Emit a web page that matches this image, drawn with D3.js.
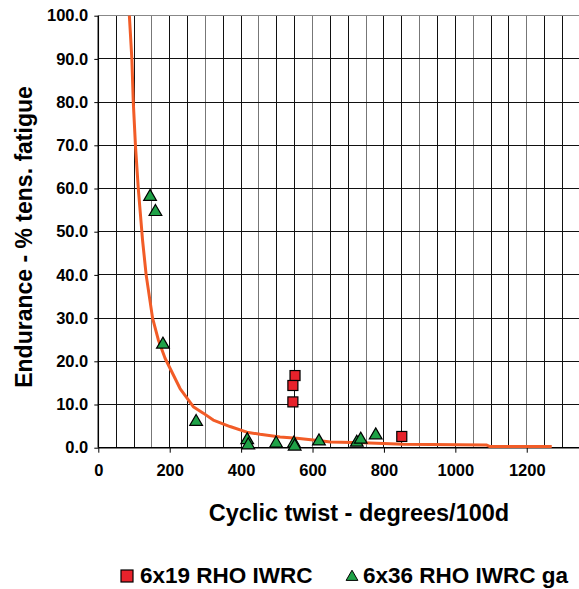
<!DOCTYPE html>
<html>
<head>
<meta charset="utf-8">
<script src="https://cdn.jsdelivr.net/npm/d3@7"></script>
<style>
  body { margin: 0; background: #fff; }
  svg { display: block; font-family: "Liberation Sans", Arial, sans-serif; font-weight: bold; }
</style>
</head>
<body>
<div id="chart"></div>
<script>
// data
var rho619 = [[551, 16.7], [545, 14.4], [545, 10.6], [850, 2.6]];
var rho636 = [[145, 58.1], [160, 54.6], [181, 23.9], [274, 6.0], [417, 1.8], [420, 0.6],
  [498, 1.0], [548, 1.0], [550, 0.3], [618, 1.5], [724, 1.2], [735, 1.9], [777, 2.9]];
var trend = [[87, 100], [94, 90], [98, 80], [104, 70], [112, 60], [124, 48], [134, 40],
  [152, 30], [168, 25], [187, 20.7], [229, 13.7], [266, 9.5], [294, 8], [322, 6.4],
  [369, 4.9], [416, 3.6], [453, 3.1], [509, 2.5], [556, 2.2], [602, 1.8], [621, 1.6],
  [650, 1.3], [742, 1.15], [854, 0.8], [1088, 0.6], [1097, 0.25], [1270, 0.25]];
var xTicks = [0, 200, 400, 600, 800, 1000, 1200];
var yTicks = [0, 10, 20, 30, 40, 50, 60, 70, 80, 90, 100];
var seriesNames = ["6x19 RHO IWRC", "6x36 RHO IWRC ga"];

var svgWidth = 579;
var svgHeight = 589;

var svg = d3.select("#chart")
  .append("svg")
  .attr("width", svgWidth)
  .attr("height", svgHeight);

var x = d3.scaleLinear().domain([0, 1350]).range([98.3, 580.3]);
var y = d3.scaleLinear().domain([0, 100]).range([447.7, 15.7]);

// grid
var grid = svg.append("g").attr("shape-rendering", "crispEdges");
grid.selectAll(".vg")
  .data(d3.range(50, 1351, 50))
  .enter()
  .append("line")
  .attr("x1", d => x(d)).attr("x2", d => x(d))
  .attr("y1", y(100)).attr("y2", y(0))
  .attr("stroke", (d, i) => i % 3 == 2 ? "#777" : "#111")
  .attr("stroke-width", 1);
grid.selectAll(".hg")
  .data(yTicks.slice(1))
  .enter()
  .append("line")
  .attr("x1", x(0)).attr("x2", x(1350))
  .attr("y1", d => y(d)).attr("y2", d => y(d))
  .attr("stroke", d => d == 100 ? "#888" : "#111")
  .attr("stroke-width", d => d == 100 ? 1.5 : 1);

// axes
var bottomAxis = d3.axisBottom(x).tickValues(xTicks).tickSize(5).tickPadding(12).tickFormat(d3.format("d"));
var leftAxis = d3.axisLeft(y).tickValues(yTicks).tickSize(4).tickPadding(6).tickFormat(d3.format(".1f"));

var xAxisG = svg.append("g")
  .attr("transform", `translate(0, ${y(0)})`)
  .call(bottomAxis);
var yAxisG = svg.append("g")
  .attr("transform", `translate(${x(0)}, 0)`)
  .call(leftAxis);

[xAxisG, yAxisG].forEach(function(g) {
  g.attr("font-size", 16.5).attr("font-family", "'Liberation Sans', Arial, sans-serif");
  g.select(".domain").attr("stroke", "#000").attr("stroke-width", 1.5);
  g.selectAll(".tick line").attr("stroke", "#000");
  g.selectAll(".tick text")
    .attr("fill", "#000")
    .style("font-size", "16.5px")
    .style("font-weight", "bold");
});
xAxisG.select(".domain").attr("d", `M${x(0)},0H${x(1350)}`);
yAxisG.select(".domain").attr("d", `M0,${y(0)}V${y(100)}`);

// trend line
svg.append("path")
  .datum(trend)
  .attr("fill", "none")
  .attr("stroke", "#f25c27")
  .attr("stroke-width", 3)
  .attr("stroke-linejoin", "round")
  .attr("d", d3.line().x(d => x(d[0])).y(d => y(d[1])));

// markers
var tri = d3.symbol().type(d3.symbolTriangle).size(70);

svg.selectAll(".tri")
  .data(rho636)
  .enter()
  .append("path")
  .attr("transform", d => `translate(${x(d[0])}, ${y(d[1])})`)
  .attr("d", tri)
  .attr("fill", "#1fa247")
  .attr("stroke", "#000")
  .attr("stroke-width", 1.2);

svg.selectAll(".sq")
  .data(rho619)
  .enter()
  .append("rect")
  .attr("x", d => x(d[0]) - 5)
  .attr("y", d => y(d[1]) - 5)
  .attr("width", 10)
  .attr("height", 10)
  .attr("fill", "#e8222b")
  .attr("stroke", "#000")
  .attr("stroke-width", 1.2);

// axis titles
svg.append("text")
  .attr("transform", `translate(32, 237) rotate(-90)`)
  .attr("text-anchor", "middle")
  .style("font-size", "23px")
  .text("Endurance - % tens. fatigue");

svg.append("text")
  .attr("x", 359)
  .attr("y", 521)
  .attr("text-anchor", "middle")
  .style("font-size", "23.5px")
  .text("Cyclic twist - degrees/100d");

// legend
var legend = svg.append("g");
legend.append("rect")
  .attr("x", 121).attr("y", 570)
  .attr("width", 12).attr("height", 12)
  .attr("fill", "#e8222b").attr("stroke", "#000").attr("stroke-width", 1.2);
legend.append("text")
  .attr("x", 140).attr("y", 583)
  .style("font-size", "22.5px")
  .text(seriesNames[0]);
legend.append("path")
  .attr("transform", "translate(352, 577)")
  .attr("d", d3.symbol().type(d3.symbolTriangle).size(60))
  .attr("fill", "#1fa247").attr("stroke", "#000").attr("stroke-width", 1);
legend.append("text")
  .attr("x", 363).attr("y", 583)
  .style("font-size", "22.5px")
  .text(seriesNames[1]);
</script>
</body>
</html>
